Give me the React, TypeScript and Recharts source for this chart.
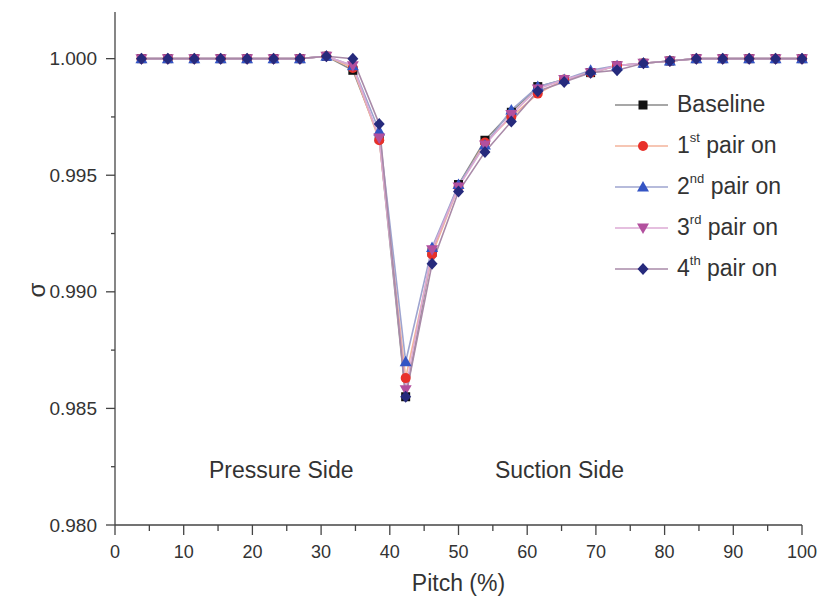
import React from 'react'
import { LineChart, Line, XAxis, YAxis, ReferenceDot, Label } from 'recharts'

const pitch = [3.85, 7.69, 11.54, 15.38, 19.23, 23.08, 26.92, 30.77, 34.62, 38.46, 42.31, 46.15, 50, 53.85, 57.69, 61.54, 65.38, 69.23, 73.08, 76.92, 80.77, 84.62, 88.46, 92.31, 96.15, 100]

const baseline = [1.0, 1.0, 1.0, 1.0, 1.0, 1.0, 1.0, 1.0001, 0.9995, 0.9966, 0.9855, 0.9917, 0.9946, 0.9965, 0.9977, 0.9988, 0.9991, 0.9994, 0.9997, 0.9998, 0.9999, 1.0, 1.0, 1.0, 1.0, 1.0]
const pair1 = [1.0, 1.0, 1.0, 1.0, 1.0, 1.0, 1.0, 1.0001, 0.9996, 0.9965, 0.9863, 0.9916, 0.9945, 0.9964, 0.9975, 0.9985, 0.9991, 0.9994, 0.9997, 0.9998, 0.9999, 1.0, 1.0, 1.0, 1.0, 1.0]
const pair2 = [1.0, 1.0, 1.0, 1.0, 1.0, 1.0, 1.0, 1.0001, 0.9997, 0.9969, 0.987, 0.9919, 0.9946, 0.9963, 0.9978, 0.9988, 0.9991, 0.9995, 0.9997, 0.9998, 0.9999, 1.0, 1.0, 1.0, 1.0, 1.0]
const pair3 = [1.0, 1.0, 1.0, 1.0, 1.0, 1.0, 1.0, 1.0001, 0.9997, 0.9966, 0.9858, 0.9918, 0.9945, 0.9963, 0.9976, 0.9987, 0.9991, 0.9994, 0.9997, 0.9998, 0.9999, 1.0, 1.0, 1.0, 1.0, 1.0]
const pair4 = [1.0, 1.0, 1.0, 1.0, 1.0, 1.0, 1.0, 1.0001, 1.0, 0.9972, 0.9855, 0.9912, 0.9943, 0.996, 0.9973, 0.9986, 0.999, 0.9994, 0.9995, 0.9998, 0.9999, 1.0, 1.0, 1.0, 1.0, 1.0]

const xTicks = [0, 5, 10, 15, 20, 25, 30, 35, 40, 45, 50, 55, 60, 65, 70, 75, 80, 85, 90, 95, 100]
const yTicks = [0.98, 0.9825, 0.985, 0.9875, 0.99, 0.9925, 0.995, 0.9975, 1.0]

const data = pitch.map((p, i) => ({
  pitch: p,
  baseline: baseline[i],
  pair1: pair1[i],
  pair2: pair2[i],
  pair3: pair3[i],
  pair4: pair4[i],
}))

const textColor = '#333'
const font = '"Liberation Sans", Arial, sans-serif'

type Shape = 'square' | 'circle' | 'up' | 'down' | 'diamond'

const series: { key: string; label: string; sup: string; shape: Shape; fill: string; stroke: string }[] = [
  { key: 'baseline', label: 'Baseline', sup: '', shape: 'square', fill: '#111', stroke: '#8a8a8a' },
  { key: 'pair1', label: '1', sup: 'st', shape: 'circle', fill: '#e8302a', stroke: '#f3b39b' },
  { key: 'pair2', label: '2', sup: 'nd', shape: 'up', fill: '#3454c4', stroke: '#9ea4cf' },
  { key: 'pair3', label: '3', sup: 'rd', shape: 'down', fill: '#b2509e', stroke: '#dcaad4' },
  { key: 'pair4', label: '4', sup: 'th', shape: 'diamond', fill: '#262a7c', stroke: '#a98aa8' },
]

function marker(shape: Shape, cx: number, cy: number, fill: string, key?: string) {
  switch (shape) {
    case 'square':
      return <rect key={key} x={cx - 4.5} y={cy - 4.5} width={9} height={9} fill={fill} />
    case 'circle':
      return <circle key={key} cx={cx} cy={cy} r={5} fill={fill} />
    case 'up':
      return <polygon key={key} points={`${cx},${cy - 6} ${cx + 6},${cy + 4.5} ${cx - 6},${cy + 4.5}`} fill={fill} />
    case 'down':
      return <polygon key={key} points={`${cx},${cy + 6} ${cx + 6},${cy - 4.5} ${cx - 6},${cy - 4.5}`} fill={fill} />
    default:
      return <polygon key={key} points={`${cx},${cy - 6} ${cx + 5.5},${cy} ${cx},${cy + 6} ${cx - 5.5},${cy}`} fill={fill} />
  }
}

const XTick = (props: any) => {
  const { x, y, payload } = props
  const major = payload.value % 10 === 0
  return (
    <g>
      <line x1={x} x2={x} y1={y} y2={y + (major ? 10 : 6)} stroke="#444" strokeWidth={1.3} />
      {major && (
        <text x={x} y={y + 33} textAnchor="middle" fill={textColor} fontSize={18} fontFamily={font}>
          {payload.value}
        </text>
      )}
    </g>
  )
}

const YTick = (props: any) => {
  const { x, y, payload } = props
  const major = Math.round(payload.value * 10000) % 50 === 0
  return (
    <g>
      <line x1={x - (major ? 9 : 4)} x2={x} y1={y} y2={y} stroke="#444" strokeWidth={1.3} />
      {major && (
        <text x={x - 18} y={y} dy="0.35em" textAnchor="end" fill={textColor} fontSize={19} fontFamily={font}>
          {payload.value.toFixed(3)}
        </text>
      )}
    </g>
  )
}

function LegendBox() {
  return (
    <div style={{ position: 'absolute', left: 612, top: 84, fontFamily: font, color: textColor }}>
      {series.map((s) => (
        <div key={s.key} style={{ display: 'flex', alignItems: 'center', height: 41 }}>
          <svg width={60} height={20}>
            <line x1={3} x2={56} y1={10} y2={10} stroke={s.stroke} strokeWidth={1.5} />
            {marker(s.shape, 31, 10, s.fill)}
          </svg>
          <span style={{ fontSize: 23, marginLeft: 5, whiteSpace: 'nowrap' }}>
            {s.label}
            {s.sup && <sup style={{ fontSize: 13, verticalAlign: 'top', position: 'relative', top: -2 }}>{s.sup}</sup>}
            {s.sup && ' pair on'}
          </span>
        </div>
      ))}
    </div>
  )
}

export default function App() {
  return (
    <div style={{ position: 'absolute', left: 0, top: 0, width: 820, height: 599, background: '#fff' }}>
      <LineChart width={820} height={599} data={data} margin={{ top: 12, right: 18, bottom: 0, left: 0 }}>
        <XAxis
          dataKey="pitch"
          type="number"
          domain={[0, 100]}
          ticks={xTicks}
          interval={0}
          height={74}
          tickSize={0}
          tickMargin={0}
          tickLine={false}
          tick={<XTick />}
          axisLine={{ stroke: '#444', strokeWidth: 1.3 }}
        >
          <Label value="Pitch (%)" position="insideBottom" offset={8} fill={textColor} fontSize={23} fontFamily={font} />
        </XAxis>
        <YAxis
          type="number"
          domain={[0.98, 1.002]}
          ticks={yTicks}
          interval={0}
          width={115}
          tickSize={0}
          tickMargin={0}
          tickLine={false}
          tick={<YTick />}
          axisLine={{ stroke: '#444', strokeWidth: 1.3 }}
          allowDataOverflow
        >
          <Label
            content={() => (
              <text x={37} y={290} transform="rotate(-90 37 290)" textAnchor="middle" dy="0.35em" fill={textColor} fontSize={24} fontFamily={font}>
                σ
              </text>
            )}
          />
        </YAxis>
        <ReferenceDot x={24.2} y={0.98235} r={0} fill="none" stroke="none">
          <Label value="Pressure Side" position="center" fill={textColor} fontSize={23} fontFamily={font} />
        </ReferenceDot>
        <ReferenceDot x={64.7} y={0.98235} r={0} fill="none" stroke="none">
          <Label value="Suction Side" position="center" fill={textColor} fontSize={23} fontFamily={font} />
        </ReferenceDot>
        {series.map((s) => (
          <Line
            key={s.key}
            dataKey={s.key}
            stroke={s.stroke}
            strokeWidth={1.6}
            isAnimationActive={false}
            dot={(p: any) => marker(s.shape, p.cx, p.cy, s.fill, `${s.key}-${p.index}`)}
            activeDot={false}
          />
        ))}
      </LineChart>
      <LegendBox />
    </div>
  )
}
